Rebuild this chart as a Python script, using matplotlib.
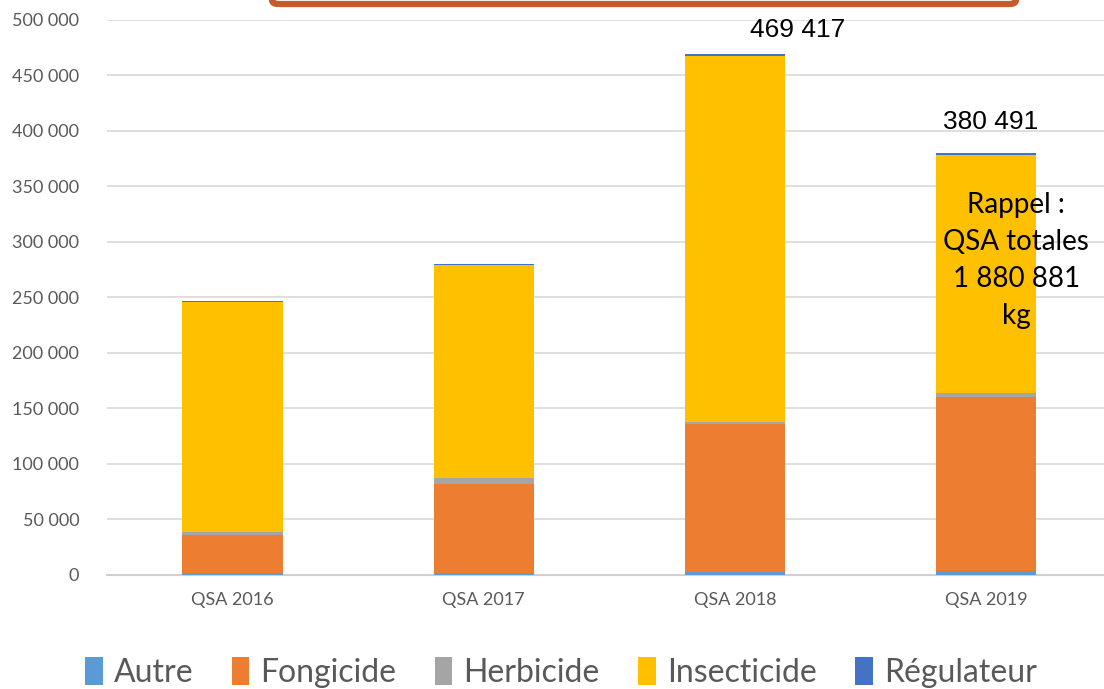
import matplotlib
matplotlib.use('Agg')
import matplotlib.pyplot as plt
import matplotlib.ticker as ticker
from matplotlib.patches import FancyBboxPatch
import numpy as np

categories = ['QSA 2016', 'QSA 2017', 'QSA 2018', 'QSA 2019']
autre = [1500, 1500, 2500, 3500]
fongicide = [34500, 80200, 133300, 157000]
herbicide = [2400, 5700, 2300, 3600]
insecticide = [207400, 191600, 329500, 214300]
regulateur = [1000, 1500, 1800, 2100]
totals_shown = {2: '469 417', 3: '380 491'}

series = [('Autre', autre, '#5B9BD5'),
          ('Fongicide', fongicide, '#ED7D31'),
          ('Herbicide', herbicide, '#A5A5A5'),
          ('Insecticide', insecticide, '#FFC000'),
          ('Régulateur', regulateur, '#4472C4')]

fig = plt.figure(figsize=(11.04, 6.89), dpi=100)
ax = fig.add_axes([0.097, 0.1655, 0.903, 0.8055])

x = np.arange(len(categories))
bottom = np.zeros(len(categories))
for name, vals, col in series:
    ax.bar(x, vals, 0.4, bottom=bottom, color=col, label=name, zorder=3)
    bottom += np.array(vals)

ax.set_xlim(-0.5, 3.47)
ax.set_ylim(0, 500000)
ax.yaxis.set_major_locator(ticker.MultipleLocator(50000))
ax.yaxis.set_major_formatter(ticker.FuncFormatter(lambda v, p: f'{int(v):,}'.replace(',', ' ')))
ax.set_xticks(x, categories)
ax.grid(axis='y', color='#D9D9D9', linewidth=1.2, zorder=0)
for s in ['top', 'left', 'right']:
    ax.spines[s].set_visible(False)
ax.spines['bottom'].set_color('#D0D0D0')
ax.spines['bottom'].set_linewidth(1.5)
ax.tick_params(axis='both', length=0, colors='#595959', labelsize=13)
ax.tick_params(axis='y', pad=20)
ax.tick_params(axis='x', pad=12)
for lab in ax.get_xticklabels() + ax.get_yticklabels():
    lab.set_family('Lato')

# total labels
ax.text(2.25, 491000, totals_shown[2], ha='center', va='center', fontsize=19,
        family='Liberation Sans', color='black')
ax.text(3.02, 408000, totals_shown[3], ha='center', va='center', fontsize=19,
        family='Liberation Sans', color='black')
ax.text(3.12, 283000, 'Rappel :\nQSA totales\n1 880 881\nkg', ha='center', va='center',
        fontsize=20, family='Lato', color='black', linespacing=1.52, zorder=5)

# orange box cut off at the top
box = FancyBboxPatch((272 / 1104, 1 - 4 / 689), (1016 - 272) / 1104, 0.2,
                     boxstyle='round,pad=0,rounding_size=0.006',
                     transform=fig.transFigure, fill=False,
                     edgecolor='#C55A2B', linewidth=4.5, clip_on=False)
fig.patches.append(box)

leg = fig.legend(loc='lower center', bbox_to_anchor=(0.508, -0.04), ncol=5,
                 frameon=False, handlelength=0.55, handleheight=1.0,
                 handletextpad=0.35, columnspacing=1.2, prop={'family': 'Lato', 'size': 23})
for t in leg.get_texts():
    t.set_color('#595959')

fig.savefig('out.png', dpi=100)
